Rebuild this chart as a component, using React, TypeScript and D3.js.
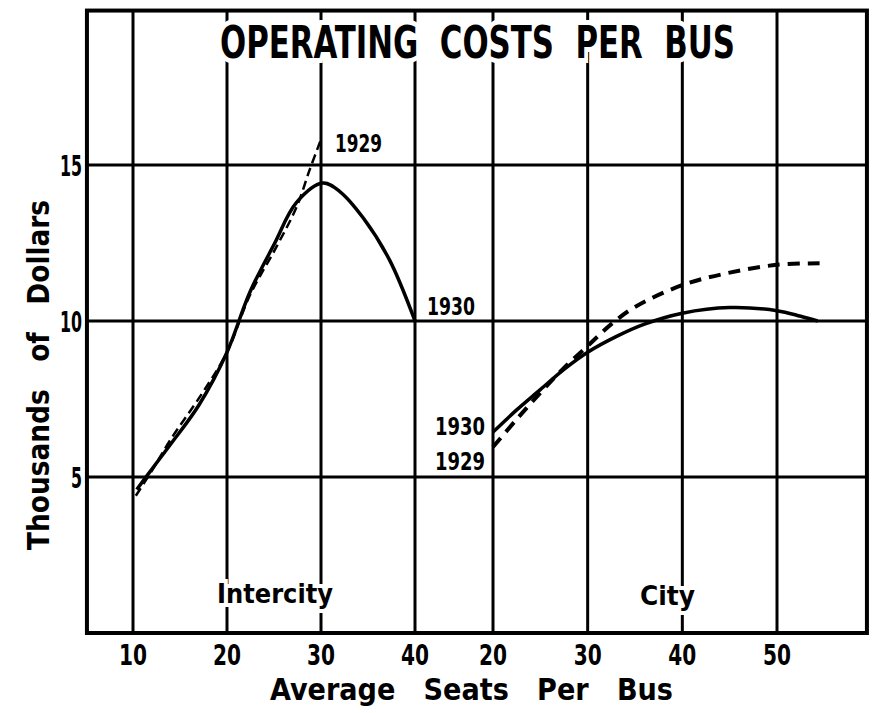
import React, { useEffect, useRef } from "react";
import * as d3 from "d3";

// Intercity buses
const interTicks = [10, 20, 30, 40];
const inter1930X = [10.4, 12, 14, 17, 20, 22.4, 25, 27.4, 30.2, 32, 34.5, 37.3, 40];
const inter1930Y = [4.6, 5.25, 6.05, 7.3, 9.0, 10.9, 12.45, 13.8, 14.42, 14.15, 13.3, 11.95, 10.0];
const inter1929X = [10.3, 12, 14, 17.4, 20, 22.4, 25.3, 27.4, 28.8, 30.1];
const inter1929Y = [4.4, 5.2, 6.2, 7.7, 9.0, 10.8, 12.4, 13.65, 14.85, 15.9];

// City buses
const cityTicks = [20, 30, 40, 50];
const city1930X = [20, 22.5, 25, 27.5, 30, 33, 36, 40, 45, 50, 52.5, 54.3];
const city1930Y = [6.44, 7.15, 7.8, 8.45, 9.0, 9.5, 9.9, 10.25, 10.43, 10.33, 10.15, 10.0];
const city1929X = [20, 22.5, 25, 27.5, 30, 32.5, 35, 40, 45, 50, 54.5];
const city1929Y = [5.96, 6.85, 7.7, 8.5, 9.2, 9.9, 10.45, 11.15, 11.55, 11.8, 11.85];

const yTicks = [5, 10, 15];

const FONT = "'DejaVu Sans Condensed', 'DejaVu Sans', sans-serif";

const drawChart = (el: SVGSVGElement) => {
  const svg = d3.select(el);
  svg.selectAll("*").remove();

  const xInter = d3.scaleLinear().domain([10, 40]).range([133, 415]);
  const xCity = d3.scaleLinear().domain([20, 50]).range([493, 777]);
  const y = d3.scaleLinear().domain([0, 20]).range([633, 9]);

  const left = xInter(5.1);
  const right = xCity(59.5);
  const top = y(19.95);
  const bottom = y(0);

  // grid
  const g = svg.append("g").attr("stroke", "#000").attr("stroke-width", 3);
  yTicks.forEach((t) => {
    g.append("line").attr("x1", left).attr("x2", right).attr("y1", y(t)).attr("y2", y(t));
  });
  interTicks.forEach((t) => {
    g.append("line").attr("x1", xInter(t)).attr("x2", xInter(t)).attr("y1", top).attr("y2", bottom);
  });
  cityTicks.forEach((t) => {
    g.append("line").attr("x1", xCity(t)).attr("x2", xCity(t)).attr("y1", top).attr("y2", bottom);
  });

  // frame
  svg
    .append("rect")
    .attr("x", left)
    .attr("y", top)
    .attr("width", right - left)
    .attr("height", bottom - top)
    .attr("fill", "none")
    .attr("stroke", "#000")
    .attr("stroke-width", 4);

  // curves
  const line = (xs: d3.ScaleLinear<number, number>) =>
    d3
      .line<[number, number]>()
      .x((d) => xs(d[0]))
      .y((d) => y(d[1]))
      .curve(d3.curveCatmullRom.alpha(0.5));

  const zip = (a: number[], b: number[]) => a.map((v, i) => [v, b[i]] as [number, number]);

  svg
    .append("path")
    .attr("d", line(xInter)(zip(inter1929X, inter1929Y)))
    .attr("fill", "none")
    .attr("stroke", "#000")
    .attr("stroke-width", 2.5)
    .attr("stroke-dasharray", "9 5");
  svg
    .append("path")
    .attr("d", line(xInter)(zip(inter1930X, inter1930Y)))
    .attr("fill", "none")
    .attr("stroke", "#000")
    .attr("stroke-width", 3.5);
  svg
    .append("path")
    .attr("d", line(xCity)(zip(city1929X, city1929Y)))
    .attr("fill", "none")
    .attr("stroke", "#000")
    .attr("stroke-width", 4)
    .attr("stroke-dasharray", "12 8");
  svg
    .append("path")
    .attr("d", line(xCity)(zip(city1930X, city1930Y)))
    .attr("fill", "none")
    .attr("stroke", "#000")
    .attr("stroke-width", 3.5);

  const label = (
    txt: string,
    x: number,
    yy: number,
    size: number,
    len: number,
    anchor = "start",
    halo = 0
  ) =>
    svg
      .append("text")
      .attr("x", x)
      .attr("y", yy)
      .attr("text-anchor", anchor)
      .attr("font-family", FONT)
      .attr("font-weight", "bold")
      .attr("font-size", size)
      .attr("textLength", len)
      .attr("lengthAdjust", "spacingAndGlyphs")
      .attr("fill", "#000")
      .attr("stroke", halo ? "#fff" : "none")
      .attr("stroke-width", halo)
      .attr("paint-order", "stroke")
      .style("white-space", "pre")
      .text(txt);

  // title & area labels (with white halo breaking the grid)
  label("OPERATING  COSTS  PER  BUS", 220, 58, 44, 515, "start", 10);
  label("Intercity", 217, 603, 27, 116, "start", 8);
  label("City", 640, 605, 27, 55, "start", 8);

  // year labels
  label("1929", 335, 152, 25, 47);
  label("1930", 427, 315, 25, 48);
  label("1930", 435, 435, 25, 50);
  label("1929", 435, 470, 25, 50);

  // tick labels
  interTicks.forEach((t) => label(String(t), xInter(t), 665, 28, 28, "middle"));
  cityTicks.forEach((t) => label(String(t), xCity(t), 665, 28, 28, "middle"));
  yTicks.forEach((t) => label(String(t), 82, y(t) + 11, 28, String(t).length * 11, "end"));

  // axis titles
  label("Average   Seats   Per   Bus", 270, 700, 30, 403);
  svg
    .append("text")
    .attr("transform", `translate(49,375) rotate(-90)`)
    .attr("text-anchor", "middle")
    .attr("font-family", FONT)
    .attr("font-weight", "bold")
    .attr("font-size", 30)
    .attr("textLength", 350)
    .attr("lengthAdjust", "spacingAndGlyphs")
    .style("white-space", "pre")
    .text("Thousands   of   Dollars");
};

export default function App() {
  const ref = useRef<SVGSVGElement>(null);
  useEffect(() => {
    if (ref.current) drawChart(ref.current);
  }, []);
  return (
    <svg
      ref={ref}
      width={880}
      height={713}
      style={{ position: "absolute", left: 0, top: 0, background: "#fff" }}
    />
  );
}
